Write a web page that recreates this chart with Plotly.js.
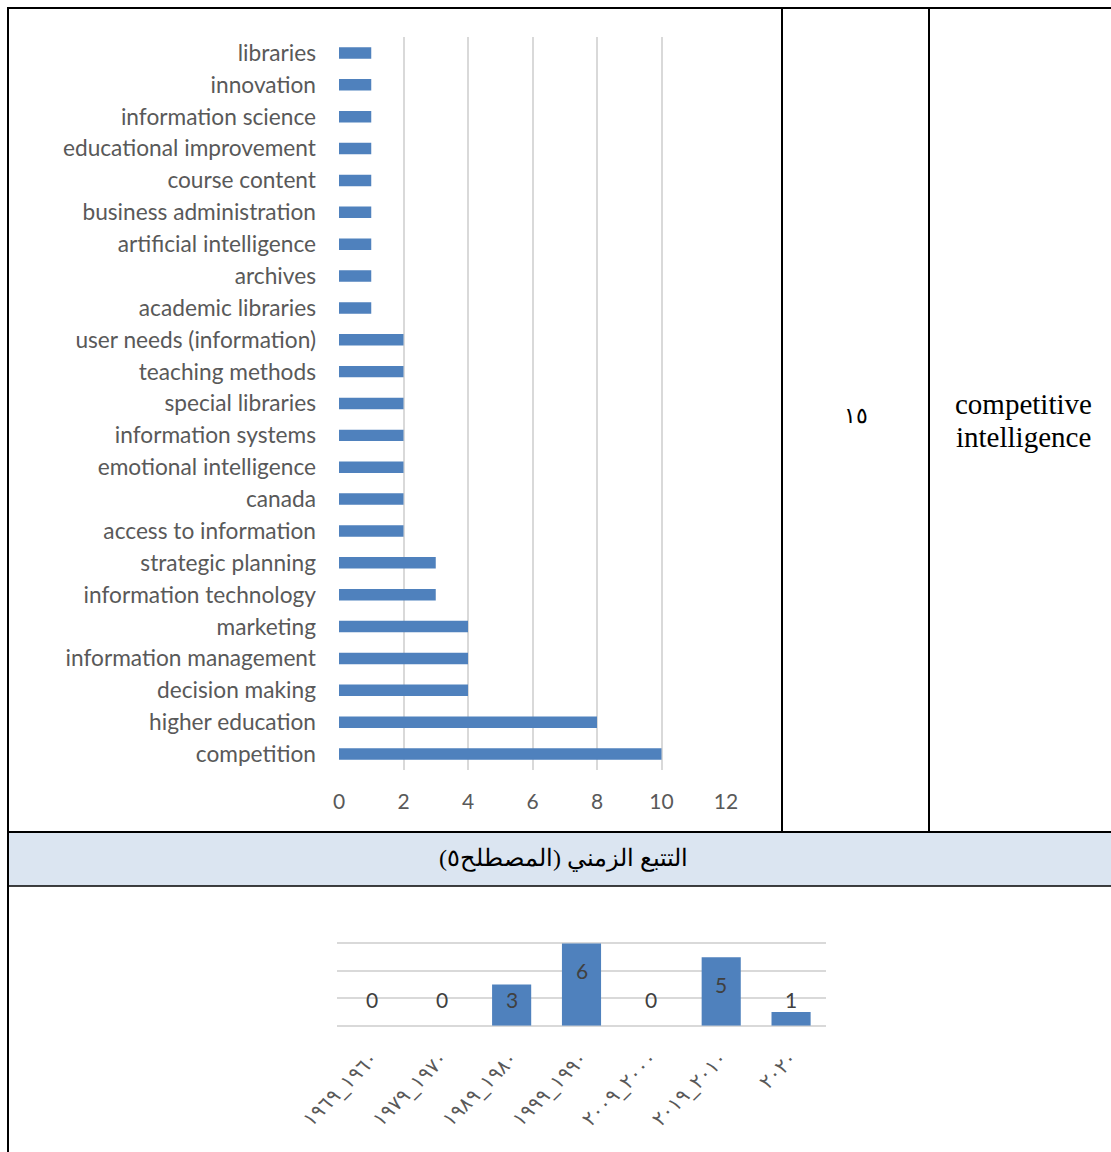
<!DOCTYPE html>
<html>
<head>
<meta charset="utf-8">
<script src="https://cdn.plot.ly/plotly-3.0.1.min.js"></script>
<style>
html,body{margin:0;padding:0;background:#fff;}
#chart{width:1111px;height:1152px;}
</style>
</head>
<body>
<div id="chart"></div>
<script>
// ---- data ----
const topicLabels = [
  "libraries","innovation","information science","educational improvement","course content",
  "business administration","artificial intelligence","archives","academic libraries",
  "user needs (information)","teaching methods","special libraries","information systems",
  "emotional intelligence","canada","access to information","strategic planning",
  "information technology","marketing","information management","decision making",
  "higher education","competition"
];
const topicCounts = [1,1,1,1,1,1,1,1,1,2,2,2,2,2,2,2,3,3,4,4,4,8,10];
const xTickVals = [0,2,4,6,8,10,12];

const periodLabels = ["١٩٦٠_١٩٦٩","١٩٧٠_١٩٧٩","١٩٨٠_١٩٨٩","١٩٩٠_١٩٩٩","٢٠٠٠_٢٠٠٩","٢٠١٠_٢٠١٩","٢٠٢٠"];
const periodCounts = [0,0,3,6,0,5,1];

const termNumber = "١٥";
const termNameLines = ["competitive", "intelligence"];
const headerText = "\u200Fالتتبع الزمني (المصطلح٥)\u200F";

// ---- layout helpers ----
const W = 1111, H = 1152;
const px = x => x / W;
const py = y => 1 - y / H;

const barColor = "#4F81BD";
const gridColor = "#D9D9D9";
const labelFont = "Lato, 'Open Sans', sans-serif";
const serifFont = "'Liberation Serif', 'Times New Roman', serif";

const traces = [
  {
    type: "bar", orientation: "h",
    x: topicCounts, y: topicLabels,
    xaxis: "x", yaxis: "y",
    width: 0.36,
    marker: {color: barColor, line: {width: 0}},
    hoverinfo: "x+y"
  },
  {
    type: "bar",
    x: periodLabels, y: periodCounts,
    xaxis: "x2", yaxis: "y2",
    width: 0.56,
    marker: {color: barColor, line: {width: 0}},
    hoverinfo: "x+y"
  }
];

const annotations = [];
periodLabels.forEach((lab, i) => {
  annotations.push({
    xref: "x2", yref: "y2", x: lab, y: Math.max(periodCounts[i] - 2, 1.9),
    xanchor: "center", yanchor: "middle",
    text: String(periodCounts[i]), showarrow: false,
    font: {family: labelFont, size: 21, color: "#404040"}
  });
});
const paperText = (x, y, text, size, family) => ({
  xref: "paper", yref: "paper", x: px(x), y: py(y),
  xanchor: "center", yanchor: "middle",
  text: text, showarrow: false,
  font: {family: family, size: size, color: "#000"}
});
annotations.push(paperText(856, 415, termNumber, 22, serifFont));
termNameLines.forEach((t, i) => annotations.push(paperText(1023, 404 + i * 33, t, 29, serifFont)));
annotations.push(paperText(563, 858, headerText, 24, serifFont));

const line = (x0, y0, x1, y1, w) => ({
  type: "line", xref: "paper", yref: "paper",
  x0: px(x0), y0: py(y0), x1: px(x1), y1: py(y1),
  line: {color: "#000", width: w}, layer: "above"
});

const shapes = [
  {type: "rect", xref: "paper", yref: "paper", x0: px(9), x1: px(1111), y0: py(886), y1: py(832),
   fillcolor: "#DBE5F1", line: {width: 0}, layer: "below"},
  line(8, 8, 1111, 8, 2),
  line(8, 7, 8, 1152, 2),
  line(782, 8, 782, 832, 2),
  line(929, 8, 929, 832, 2),
  line(8, 832, 1111, 832, 2),
  line(8, 886, 1111, 886, 1.5)
];

const layout = {
  width: W, height: H,
  margin: {l: 0, r: 0, t: 0, b: 0},
  paper_bgcolor: "#fff", plot_bgcolor: "rgba(0,0,0,0)",
  showlegend: false,
  xaxis: {
    domain: [px(339), px(726)], anchor: "y",
    range: [0, 12], tickvals: xTickVals,
    showgrid: true, gridcolor: gridColor, gridwidth: 2,
    zeroline: false, showline: false, ticks: "",
    ticklabelstandoff: 17,
    tickfont: {family: labelFont, size: 21, color: "#595959"},
    fixedrange: true
  },
  yaxis: {
    domain: [py(770), py(37)], anchor: "x",
    type: "category", autorange: "reversed",
    showgrid: false, zeroline: false, showline: false, ticks: "",
    ticklabelstandoff: 22,
    tickfont: {family: labelFont, size: 22.7, color: "#595959"},
    fixedrange: true
  },
  xaxis2: {
    domain: [px(337), px(826)], anchor: "y2",
    type: "category",
    showgrid: false, zeroline: false, showline: false, ticks: "",
    tickangle: -45,
    ticklabelstandoff: 16,
    tickfont: {family: "'DejaVu Sans', sans-serif", size: 20, color: "#595959"},
    fixedrange: true
  },
  yaxis2: {
    domain: [py(1025.7), py(916)], anchor: "x2",
    range: [0, 8], dtick: 2,
    showgrid: true, gridcolor: gridColor, gridwidth: 2,
    zeroline: true, zerolinecolor: gridColor, zerolinewidth: 2,
    showticklabels: false, ticks: "",
    fixedrange: true
  },
  annotations: annotations,
  shapes: shapes
};

Plotly.newPlot("chart", traces, layout, {displayModeBar: false, staticPlot: true});
</script>
</body>
</html>
